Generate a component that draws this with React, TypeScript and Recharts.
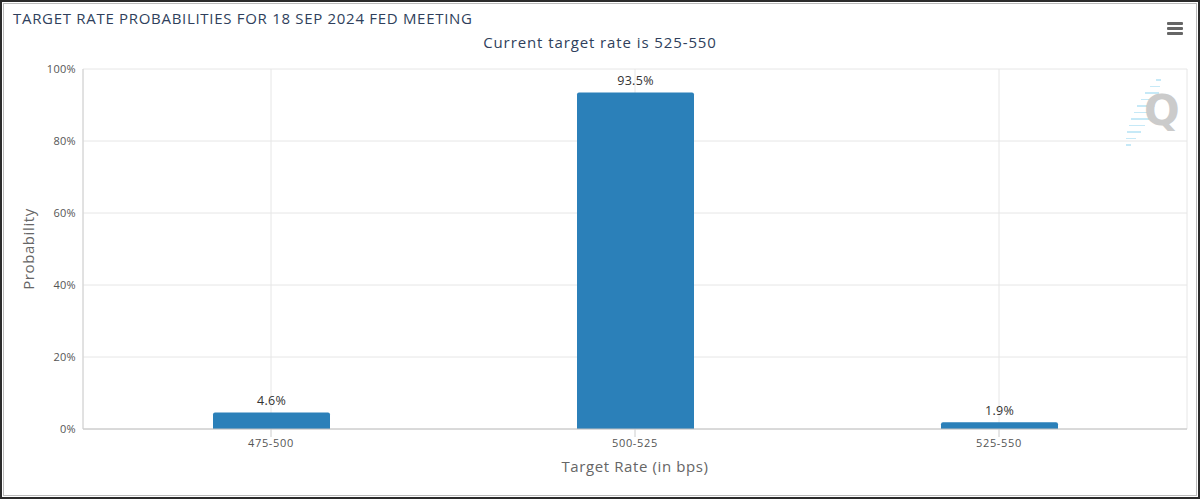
import { BarChart, Bar, XAxis, YAxis, CartesianGrid, LabelList } from 'recharts'

const rateBuckets = ['475-500', '500-525', '525-550']
const probabilities = [4.6, 93.5, 1.9]
const yTicks = [0, 20, 40, 60, 80, 100]

const data = rateBuckets.map((bucket, i) => ({ bucket, prob: probabilities[i] }))

const FONT = '"Open Sans", "Noto Sans", sans-serif'

// decorative streak beside the watermark letter
const streak = [0, 1, 2, 3, 4, 5, 6, 7, 8, 9, 10]

export default function App() {
  return (
    <div style={{ position: 'absolute', left: 0, top: 0, width: 1200, height: 499, background: '#fff', fontFamily: FONT }}>
      <style>{'body{margin:0}'}</style>
      <div style={{ position: 'absolute', inset: 0, border: '2px solid #2b2b2b', boxSizing: 'border-box', pointerEvents: 'none', zIndex: 3 }} />
      <div style={{ position: 'absolute', left: 3, top: 3, width: 1194, height: 493, border: '1px solid #bbb', boxSizing: 'border-box', pointerEvents: 'none', zIndex: 3 }} />

      <div style={{ position: 'absolute', left: 13, top: 8, fontSize: 15, letterSpacing: 0.7, color: '#2f3f5c', whiteSpace: 'nowrap' }}>
        TARGET RATE PROBABILITIES FOR 18 SEP 2024 FED MEETING
      </div>
      <div style={{ position: 'absolute', left: 0, width: 1200, top: 32, textAlign: 'center', fontSize: 15, letterSpacing: 0.9, color: '#2f3f5c' }}>
        Current target rate is 525-550
      </div>

      {/* menu icon */}
      <div style={{ position: 'absolute', left: 1167, top: 22 }}>
        {[0, 5, 10].map((d) => (
          <div key={d} style={{ position: 'absolute', top: d, width: 16, height: 3, background: '#666', borderRadius: 1 }} />
        ))}
      </div>

      {/* watermark */}
      {streak.map((i) => {
        const len = 5 + 14 * Math.sin((Math.PI * i) / 10)
        const cx = 1158 - i * 3
        return <div key={i} style={{ position: 'absolute', left: cx - len / 2, top: 79 + i * 6.5, width: len, height: 1.5, background: '#c6e9f7' }} />
      })}
      <div style={{ position: 'absolute', left: 1144, top: 86, fontSize: 42, fontWeight: 700, color: '#cbcbcb', fontFamily: '"DejaVu Sans", sans-serif' }}>Q</div>

      <div style={{ position: 'absolute', left: 0, top: 0 }}>
        <BarChart width={1200} height={499} data={data} margin={{ top: 69, right: 13, bottom: 30, left: 23 }} barSize={117}>
          <CartesianGrid stroke="#e6e6e6" vertical={true} />
          <XAxis
            dataKey="bucket"
            height={40}
            padding={{ left: 6, right: 6 }}
            tick={{ fontSize: 11, fill: '#555', fontFamily: FONT, letterSpacing: 0.7 }}
            tickLine={{ stroke: '#ccc' }}
            tickSize={8}
            tickMargin={2}
            axisLine={{ stroke: '#c0c0c0' }}
          />
          <YAxis
            width={60}
            domain={[0, 100]}
            ticks={yTicks}
            tickFormatter={(v) => `${v}%`}
            tick={{ fontSize: 11, fill: '#555', fontFamily: FONT, letterSpacing: 0.3 }}
            tickLine={false}
            tickMargin={1}
            axisLine={{ stroke: '#d0d0d0' }}
          />
          <Bar dataKey="prob" fill="#2b80b9" radius={[2, 2, 0, 0]} isAnimationActive={false}>
            <LabelList
              dataKey="prob"
              position="top"
              offset={7}
              formatter={(v: number) => `${v}%`}
              style={{ fontSize: 12.5, fill: '#333', fontFamily: FONT, letterSpacing: 0.3 }}
            />
          </Bar>
        </BarChart>
      </div>

      <div style={{ position: 'absolute', left: 28, top: 249, transform: 'translate(-50%, -50%) rotate(-90deg)', fontSize: 15, letterSpacing: 0.6, color: '#666', whiteSpace: 'nowrap' }}>
        Probability
      </div>
      <div style={{ position: 'absolute', left: 635, top: 466, transform: 'translate(-50%, -50%)', fontSize: 15, letterSpacing: 0.6, color: '#666', whiteSpace: 'nowrap' }}>
        Target Rate (in bps)
      </div>
    </div>
  )
}
